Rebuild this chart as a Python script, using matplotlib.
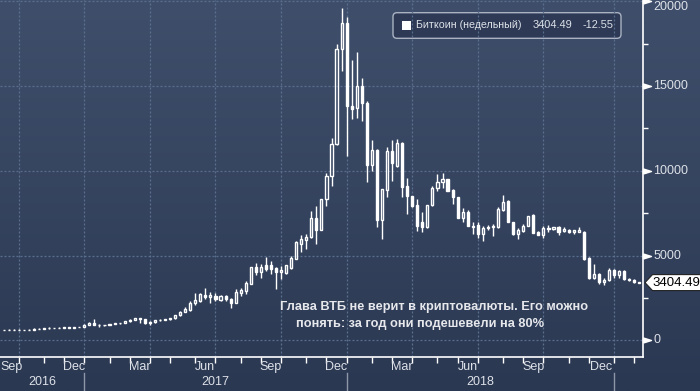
import numpy as np
import pandas as pd
import matplotlib
matplotlib.use("Agg")
import matplotlib.pyplot as plt
from matplotlib.colors import LinearSegmentedColormap
from matplotlib.patches import FancyBboxPatch, Rectangle, Polygon
from matplotlib.transforms import IdentityTransform

plt.rcParams['font.family'] = ['Liberation Sans', 'DejaVu Sans']

# weekly candles, bars dated by week start (Monday)
first_week = '2016-09-12'
opens = [610, 620, 630, 625, 615, 620, 630, 690, 690, 720, 715, 735, 750, 770, 735, 790,
         800, 930, 1040, 915, 890, 920, 980, 1000, 1010, 1130, 1225, 1320, 1240, 1020, 1050, 1180,
         1200, 1260, 1290, 1470, 1690, 1800, 2180, 2300, 2700, 2580, 2610, 2380, 2610, 2420, 2220, 2770,
         2910, 3340, 4310, 4030, 4430, 4430, 4250, 4030, 3950, 4290, 4820, 5670, 5930, 6120, 7190, 6520,
         8330, 9675, 11570, 17210, 18730, 13820, 13700, 15000, 14010, 10365, 11250, 7110, 8880, 11150, 10300, 11645,
         9080, 8490, 7980, 6950, 6700, 8000, 8960, 9320, 9515, 8880, 8470, 7210, 7580, 6750, 6790, 6260,
         6650, 6750, 6700, 7700, 8190, 6950, 6260, 6460, 6750, 7380, 6400, 6200, 6600, 6560, 6690, 6420,
         6520, 6360, 6400, 6400, 4880, 3700, 3890, 3440, 3540, 4130, 3850, 4100, 3600, 3560, 3417.04]
highs = [625, 680, 670, 640, 630, 645, 700, 705, 730, 760, 745, 760, 790, 790, 800, 810,
         980, 1070, 1230, 960, 930, 990, 1030, 1040, 1140, 1240, 1330, 1330, 1260, 1120, 1200, 1230,
         1280, 1300, 1480, 1720, 1960, 2320, 2810, 2770, 3060, 2870, 2770, 2660, 2660, 2510, 3010, 3110,
         3500, 4350, 4540, 4510, 4940, 4680, 4300, 4390, 4450, 4980, 5870, 6200, 6300, 7640, 7900, 8330,
         9850, 11920, 17500, 19630, 19080, 16560, 17010, 15470, 14100, 11840, 11300, 8920, 11390, 11840, 11880, 11700,
         9560, 8500, 8330, 7540, 8000, 9120, 9810, 9870, 9530, 8900, 8480, 7780, 7700, 6950, 6950, 6750,
         6830, 6850, 7840, 8570, 8290, 6960, 6650, 6850, 7350, 7440, 6420, 6750, 6790, 6690, 6720, 6660,
         6540, 6500, 6660, 6460, 4900, 4480, 3990, 3700, 4290, 4200, 4130, 4150, 3700, 3600, 3440]
lows = [600, 610, 615, 605, 605, 610, 620, 670, 680, 690, 700, 720, 740, 700, 730, 780,
        795, 900, 900, 780, 870, 910, 960, 980, 1000, 1100, 1190, 1010, 950, 930, 1040, 1120,
        1180, 1200, 1260, 1420, 1680, 1700, 2060, 2280, 2450, 2180, 2320, 2330, 2320, 1920, 2200, 2610,
        2710, 3320, 3830, 3700, 4090, 3890, 3050, 3600, 3900, 4190, 4780, 5180, 5370, 6060, 5670, 6480,
        7900, 9120, 11500, 15870, 10860, 13030, 13100, 12910, 9320, 10010, 6660, 6000, 8430, 9420, 10200, 8470,
        7450, 7850, 6460, 6360, 6650, 7940, 8830, 8960, 8820, 8040, 7200, 6950, 6715, 6260, 6060, 5870,
        6520, 6160, 6650, 7640, 6950, 6200, 6000, 6360, 6740, 6320, 6200, 6060, 6400, 6480, 6200, 6400,
        6330, 6300, 6390, 4740, 3600, 3600, 3300, 3240, 3500, 3700, 3700, 3550, 3520, 3400, 3380]
closes = [620, 630, 625, 615, 620, 630, 690, 690, 720, 715, 735, 750, 770, 735, 790, 800,
          930, 1040, 915, 890, 920, 980, 1000, 1020, 1130, 1225, 1320, 1240, 1020, 1050, 1180, 1200,
          1260, 1290, 1470, 1690, 1820, 2180, 2380, 2710, 2580, 2650, 2420, 2610, 2420, 2220, 2850, 2950,
          3400, 4310, 4030, 4350, 4230, 4190, 4030, 4150, 4420, 4880, 5770, 6000, 6120, 7190, 6520, 8330,
          9675, 11570, 17210, 18730, 13800, 13660, 15000, 14000, 10365, 11250, 7110, 8920, 11150, 10440, 11625, 9060,
          8490, 7940, 6715, 6660, 8000, 8980, 9320, 9515, 8825, 8430, 7210, 7580, 6750, 6710, 6260, 6650,
          6700, 6660, 7740, 8170, 6950, 6260, 6500, 6750, 7340, 6320, 6200, 6650, 6580, 6670, 6400, 6550,
          6360, 6480, 6520, 4780, 3660, 3890, 3440, 3580, 4130, 3850, 4100, 3600, 3560, 3417.04, 3404.49]

y_ticks = [0, 5000, 10000, 15000, 20000]
y_minor = [2500, 7500, 12500, 17500]
month_labels = {3: 'Mar', 6: 'Jun', 9: 'Sep', 12: 'Dec'}
series_name = 'Биткоин (недельный)'
last_price = '3404.49'
last_change = '-12.55'
note_1 = 'Глава ВТБ не верит в криптовалюты. Его можно'
note_2 = 'понять: за год они подешевели на 80%'

W, H = 700, 391
TXT = '#dde1e8'
GRID = '#5a6f8e'

def fx(px):
    return px / W

def fy(py):
    return 1 - py / H

o = np.array(opens, float)
h = np.array(highs, float)
l = np.array(lows, float)
c = np.array(closes, float)
n = len(c)
x = np.arange(n)
dates = pd.date_range(first_week, periods=n, freq='7D')

fig = plt.figure(figsize=(W / 100, H / 100), dpi=100)

# gradient background
bg = fig.add_axes([0, 0, 1, 1], zorder=0)
cmap = LinearSegmentedColormap.from_list('bg', ['#3f4f6b', '#2b3852'])
bg.imshow(np.linspace(0, 1, 256).reshape(-1, 1), cmap=cmap, aspect='auto', extent=[0, 1, 0, 1])
bg.axis('off')

ax = fig.add_axes([0, fy(356.7), 643.3 / W, 356.7 / H], zorder=1)
ax.set_facecolor('none')
xmin, xmax = -0.71, 126.8
ax.set_xlim(xmin, xmax)
ax.set_ylim(-968, 20077)

# month ticks at first bar of each month
mticks = [i for i in range(1, n) if dates[i].month != dates[i - 1].month]
qticks = [i for i in mticks if dates[i].month in (1, 4, 7, 10)]
yticks_x = [i for i in mticks if dates[i].month == 1]

for v in y_ticks:
    ax.axhline(v, color=GRID, lw=0.9, ls=(0, (1.6, 1.6)), zorder=1)
for i in qticks:
    ax.axvline(i, color=GRID, lw=0.9, ls=(0, (1.6, 1.6)), zorder=1)

# candles
lo_b = np.minimum(o, c)
hi_b = np.maximum(o, c)
up = c >= o
ax.vlines(x, l, lo_b, color='white', lw=1, zorder=3)
ax.vlines(x, hi_b, h, color='white', lw=1, zorder=3)
ax.bar(x[up], (hi_b - lo_b)[up], bottom=lo_b[up], width=0.42,
       facecolor='none', edgecolor='white', lw=1, zorder=3)
ax.bar(x[~up], (hi_b - lo_b)[~up], bottom=lo_b[~up], width=0.42,
       facecolor='white', edgecolor='white', lw=1, zorder=3)

# spines and ticks
for s in ['top', 'left']:
    ax.spines[s].set_visible(False)
for s in ['bottom', 'right']:
    ax.spines[s].set_color('white')
    ax.spines[s].set_linewidth(1.2)
ax.set_xticks(mticks)
ax.tick_params(axis='x', length=4.3, width=1, color='white', direction='out', labelbottom=False)
ax.yaxis.tick_right()
ax.set_yticks(y_ticks)
ax.set_yticks(y_minor, minor=True)
ax.tick_params(axis='y', which='major', length=0, labelright=False)
ax.tick_params(axis='y', which='minor', length=3.6, width=1, color='white', direction='out')

tri = [(0, -1), (0, 1), (3.2, 0), (0, -1)]
ax.plot([1] * len(y_ticks), y_ticks, ls='none', marker=tri, ms=11.5, color='white',
        transform=ax.get_yaxis_transform(), clip_on=False, zorder=5)
for v in y_ticks:
    dy = -6 if v == y_ticks[-1] else 0
    ax.annotate(f'{v}', xy=(1, v), xycoords=('axes fraction', 'data'),
                xytext=(10, dy), textcoords='offset pixels', va='center', ha='left',
                color=TXT, fontsize=9, annotation_clip=False)

# month and year labels
bounds = [xmin] + mticks + [xmax]
for a, b in zip(bounds[:-1], bounds[1:]):
    m = dates[int(np.ceil(max(a, 0)))].month
    if m in month_labels:
        if a == xmin:
            xpos, ha = xmin + 0.05, 'left'
        else:
            xpos, ha = (a + b) / 2, 'center'
        ax.text(xpos, -0.029, month_labels[m], transform=ax.get_xaxis_transform(),
                ha=ha, va='center', color=TXT, fontsize=9, clip_on=False)
ybounds = [xmin] + yticks_x + [xmax]
for a, b in zip(ybounds[:-1], ybounds[1:]):
    if b - a > 10:
        yr = dates[int(np.ceil(max(a, 0)))].year
        ax.text((a + b) / 2, -0.071, str(yr), transform=ax.get_xaxis_transform(),
                ha='center', va='center', color=TXT, fontsize=9, clip_on=False)
for i in yticks_x:
    ax.plot([i, i], [-0.0457, -0.0962], transform=ax.get_xaxis_transform(),
            clip_on=False, color='#8d97a8', lw=1)

# legend box
leg = FancyBboxPatch((393, H - 38.3), 228, 25.6, boxstyle='round,pad=0,rounding_size=4',
                     transform=IdentityTransform(), facecolor='#2d3955', edgecolor='#aab2c2', lw=1)
fig.add_artist(leg)
fig.add_artist(Rectangle((402, H - 30), 9, 9.5, transform=IdentityTransform(),
                         facecolor='white', edgecolor='none'))
fig.text(fx(416), fy(25.3), series_name, va='center', color=TXT, fontsize=7.7)
fig.text(fx(532.7), fy(25.3), last_price, va='center', color=TXT, fontsize=7.9)
fig.text(fx(582.7), fy(25.3), last_change, va='center', color=TXT, fontsize=7.9)

# last price tag
yc = ax.transData.transform((0, c[-1]))[1]
tag = Polygon([(645, yc), (652.5, yc + 8), (705, yc + 8), (705, yc - 8), (652.5, yc - 8)],
              closed=True, transform=IdentityTransform(), facecolor='white', edgecolor='#222222', lw=0.8)
fig.add_artist(tag)
fig.text(652, yc, last_price, transform=IdentityTransform(), va='center', ha='left',
         color='black', fontsize=9.5)

# headline
fig.text(fx(280), fy(307.3), note_1, va='center', ha='left', color='#e6e8ec',
         fontsize=9.2, fontweight='bold')
fig.text(fx(296), fy(324), note_2, va='center', ha='left', color='#e6e8ec',
         fontsize=9.2, fontweight='bold')

fig.savefig('out.png', dpi=100)
